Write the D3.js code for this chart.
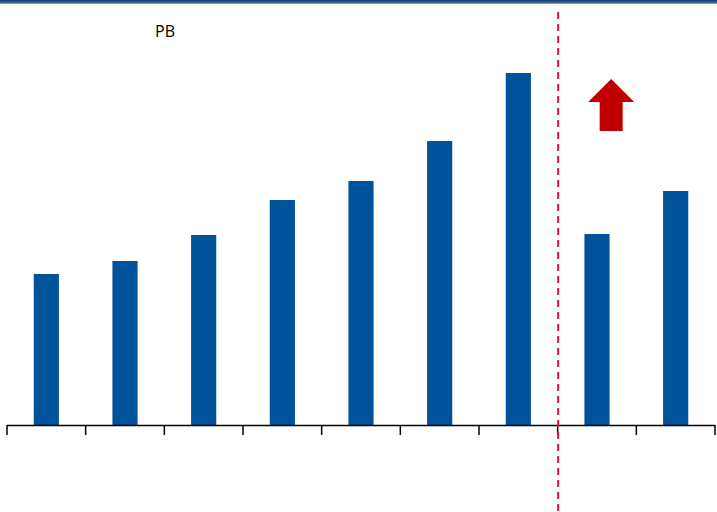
<!DOCTYPE html>
<html><head><meta charset="utf-8">
<script src="https://cdn.jsdelivr.net/npm/d3@7"></script>
<style>html,body{margin:0;padding:0;background:#fff;}svg{display:block;}</style>
</head><body>
<svg id="c" width="717" height="512"></svg>
<script>
const categories = ["1","2","3","4","5","6","7","8","9"];
const pbValues = [1.51, 1.64, 1.90, 2.25, 2.44, 2.84, 3.52, 1.91, 2.34];
const title = "PB";
const splitIndex = 7;

const svg = d3.select("#c");
const W = 717, H = 512;
const x = d3.scaleBand().domain(categories).range([7, 715]).paddingInner(0.68).paddingOuter(0.34);
const y = d3.scaleLinear().domain([0, 4.25]).range([425, 0]);

// top border
const defs = svg.append("defs");
const g = defs.append("linearGradient").attr("id","tb").attr("x1",0).attr("y1",0).attr("x2",0).attr("y2",1);
g.append("stop").attr("offset","0%").attr("stop-color","#1c3f66");
g.append("stop").attr("offset","70%").attr("stop-color","#2f6aa0");
g.append("stop").attr("offset","100%").attr("stop-color","#a9c3dc");
svg.append("rect").attr("x",0).attr("y",0).attr("width",W).attr("height",4).attr("fill","url(#tb)");

// bars
svg.selectAll("rect.bar").data(pbValues).join("rect").attr("class","bar")
  .attr("x",(d,i)=>x(categories[i]))
  .attr("width",x.bandwidth())
  .attr("y",d=>y(d))
  .attr("height",d=>y(0)-y(d))
  .attr("fill","#00529b");

// axis
const step = x.step();
const x0 = 7;
const ticks = d3.range(categories.length+1).map(i=>x0+i*step);
svg.append("line").attr("x1",7).attr("x2",715).attr("y1",y(0)+0.5).attr("y2",y(0)+0.5)
  .attr("stroke","#000").attr("stroke-width",1.5);
svg.selectAll("line.tick").data(ticks).join("line").attr("class","tick")
  .attr("x1",d=>Math.min(d,715.5)).attr("x2",d=>Math.min(d,715.5))
  .attr("y1",y(0)).attr("y2",y(0)+10).attr("stroke","#000").attr("stroke-width",1.5);

// dashed split line
const dashX = x0 + splitIndex*step + 0.5;
svg.append("line").attr("x1",dashX).attr("x2",dashX).attr("y1",12).attr("y2",H)
  .attr("stroke","#dc143c").attr("stroke-width",2).attr("stroke-dasharray","7,5");

// arrow
const ax = dashX + 53;
const arrow = d3.path();
arrow.moveTo(ax, 79);
arrow.lineTo(ax+23, 102);
arrow.lineTo(ax+11.5, 102);
arrow.lineTo(ax+11.5, 131);
arrow.lineTo(ax-11.5, 131);
arrow.lineTo(ax-11.5, 102);
arrow.lineTo(ax-23, 102);
arrow.closePath();
svg.append("path").attr("d",arrow.toString()).attr("fill","#c00000");

// title
svg.append("text").attr("x",155).attr("y",37).text(title)
  .attr("font-family","Open Sans, Noto Sans, sans-serif").attr("font-size",16).attr("fill","#000");
</script>
</body></html>
